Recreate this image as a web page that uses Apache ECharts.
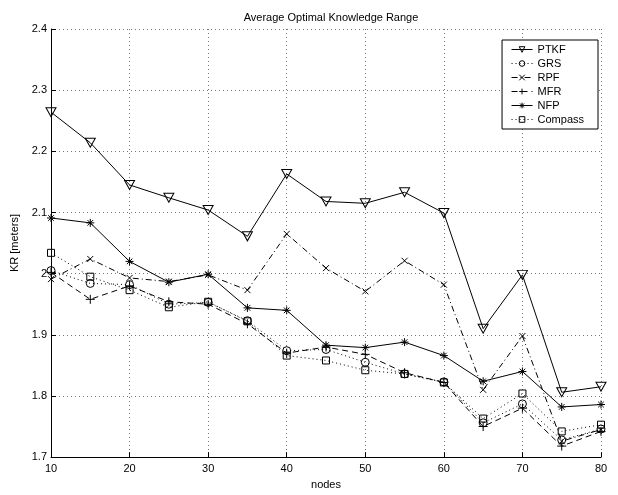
<!DOCTYPE html>
<html>
<head>
<meta charset="utf-8">
<script src="https://cdn.jsdelivr.net/npm/echarts@6/dist/echarts.min.js"></script>
<style>
html,body{margin:0;padding:0;background:#fff;}
#chart{width:618px;height:495px;}
</style>
</head>
<body>
<div id="chart"></div>
<script>
const nodes = [10, 15, 20, 25, 30, 35, 40, 45, 50, 55, 60, 65, 70, 75, 80];
const PTKF    = [2.264, 2.214, 2.145, 2.124, 2.104, 2.061, 2.163, 2.118, 2.115, 2.133, 2.099, 1.910, 1.998, 1.806, 1.815];
const GRS     = [2.005, 1.984, 1.982, 1.950, 1.953, 1.923, 1.874, 1.876, 1.855, 1.836, 1.823, 1.756, 1.787, 1.728, 1.746];
const RPF     = [1.991, 2.024, 1.993, 1.987, 1.998, 1.973, 2.065, 2.009, 1.971, 2.021, 1.982, 1.810, 1.898, 1.726, 1.745];
const MFR     = [2.002, 1.958, 1.980, 1.954, 1.950, 1.918, 1.870, 1.880, 1.868, 1.838, 1.822, 1.750, 1.780, 1.718, 1.742];
const NFP     = [2.091, 2.083, 2.020, 1.986, 1.999, 1.944, 1.940, 1.883, 1.879, 1.888, 1.866, 1.824, 1.840, 1.782, 1.786];
const Compass = [2.034, 1.995, 1.973, 1.945, 1.954, 1.922, 1.866, 1.858, 1.842, 1.836, 1.822, 1.763, 1.804, 1.742, 1.753];

const FONT = 'Liberation Sans, Arial, Helvetica, sans-serif';
function pairs(arr){ return nodes.map((n,i)=>[n, arr[i]]); }

const SYM = {
  tri: 'path://M0 0L10 0L5 8.66Z',
  x: 'path://M0 0L10 10M10 0L0 10',
  plus: 'path://M0 5L10 5M5 0L5 10',
  star: 'path://M5 0L5 10M0 5L10 5M1.5 1.5L8.5 8.5M8.5 1.5L1.5 8.5',
  sq: 'path://M0 0L10 0L10 10L0 10Z'
};

function mk(name, data, symbol, size, dash){
  return {
    name: name,
    type: 'line',
    data: pairs(data),
    symbol: symbol,
    symbolSize: size,
    showAllSymbol: true,
    animation: false,
    lineStyle: {color: '#000', width: 1, type: dash},
    itemStyle: {color: 'none', borderColor: '#000', borderWidth: 1},
    emphasis: {disabled: true}
  };
}

const chart = echarts.init(document.getElementById('chart'), null, {renderer: 'canvas'});
chart.setOption({
  backgroundColor: '#fff',
  animation: false,
  textStyle: {fontFamily: FONT, color: '#000'},
  title: {
    text: 'Average Optimal Knowledge Range',
    left: 326, top: 7, textAlign: 'center',
    textStyle: {fontFamily: FONT, fontSize: 11, fontWeight: 'normal', color: '#000'}
  },
  grid: {left: 51, right: 17, top: 29, bottom: 32, containLabel: false},
  legend: {
    orient: 'vertical',
    right: 20, top: 40,
    itemWidth: 21, itemHeight: 7, itemGap: 3,
    padding: [4, 14, 4, 9],
    borderColor: '#000', borderWidth: 1,
    backgroundColor: '#fff',
    itemStyle: {borderWidth: 1},
    lineStyle: {width: 1},
    textStyle: {fontFamily: FONT, fontSize: 11, color: '#000'},
    data: ['PTKF', 'GRS', 'RPF', 'MFR', 'NFP', 'Compass']
  },
  xAxis: {
    type: 'value', min: 10, max: 80, interval: 10,
    name: 'nodes', nameLocation: 'middle', nameGap: 20,
    nameTextStyle: {fontFamily: FONT, fontSize: 11, color: '#000'},
    axisLine: {lineStyle: {color: '#000', width: 1}},
    axisTick: {inside: true, length: 5, lineStyle: {color: '#000'}},
    axisLabel: {fontFamily: FONT, fontSize: 11, color: '#000', margin: 6},
    splitLine: {show: true, lineStyle: {color: '#777', width: 1, type: [1, 3]}}
  },
  yAxis: {
    type: 'value', min: 1.7, max: 2.4, interval: 0.1,
    name: 'KR [meters]', nameLocation: 'middle', nameGap: 28,
    nameTextStyle: {fontFamily: FONT, fontSize: 11, color: '#000'},
    axisLine: {show: true, lineStyle: {color: '#000', width: 1}},
    axisTick: {show: true, inside: true, length: 5, lineStyle: {color: '#000'}},
    axisLabel: {fontFamily: FONT, fontSize: 11, color: '#000', margin: 4,
      formatter: v => String(Math.round(v*10)/10)},
    splitLine: {show: true, lineStyle: {color: '#777', width: 1, type: [1, 3]}}
  },
  series: [
    mk('PTKF', PTKF, SYM.tri, [10, 9], 'solid'),
    mk('GRS', GRS, 'circle', 8, [1, 3]),
    mk('RPF', RPF, SYM.x, 6, [6, 3, 1, 3]),
    mk('MFR', MFR, SYM.plus, 9, [6, 4]),
    mk('NFP', NFP, SYM.star, 8, 'solid'),
    mk('Compass', Compass, SYM.sq, 7, [1, 3])
  ]
});
</script>
</body>
</html>
